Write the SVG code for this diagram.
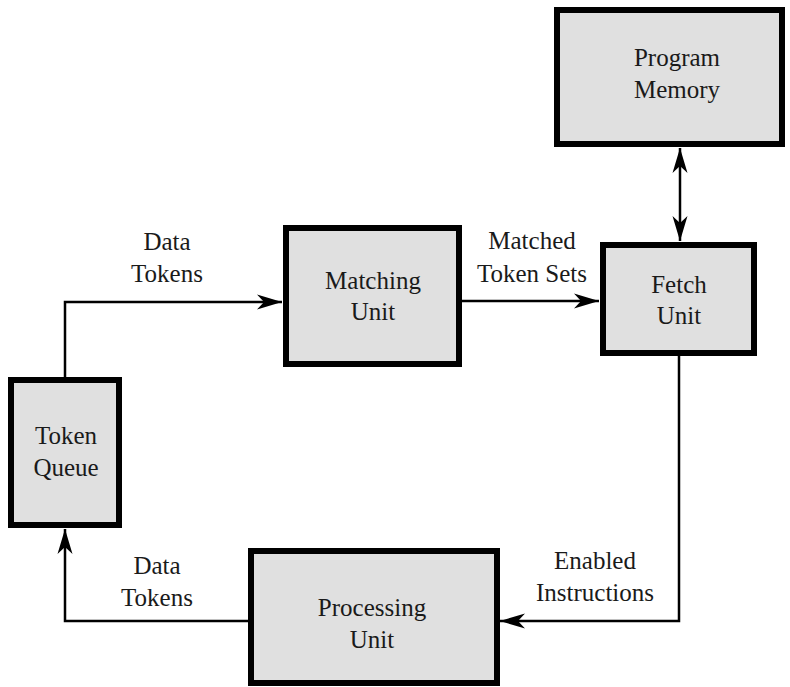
<svg xmlns="http://www.w3.org/2000/svg" width="790" height="687" viewBox="0 0 790 687">
<style>
.box{fill:#e0e0e0;stroke:#000;stroke-width:6}
.lbl{font-family:"Liberation Serif","Times New Roman",serif;font-size:25px;fill:#1a1a1a;text-anchor:middle}
.wire{fill:none;stroke:#000;stroke-width:2.5}
</style>
<defs>
<marker id="ah" markerUnits="userSpaceOnUse" markerWidth="26" markerHeight="16" refX="25" refY="7.5" orient="auto-start-reverse" viewBox="0 0 26 15">
<path d="M0,0 L25,7.5 L0,15 L7,7.5 z" fill="#000"/>
</marker>
</defs>
<rect width="790" height="687" fill="#fff"/>
<g id="connectors">
<path class="wire" d="M65,377 V302 H282" marker-end="url(#ah)"/>
<path class="wire" d="M462,301 H599" marker-end="url(#ah)"/>
<path class="wire" d="M680,148 V241" marker-start="url(#ah)" marker-end="url(#ah)"/>
<path class="wire" d="M679,356 V621 H500" marker-end="url(#ah)"/>
<path class="wire" d="M248,621 H65 V529" marker-end="url(#ah)"/>
<text class="lbl" x="167" y="250">Data</text>
<text class="lbl" x="167" y="282">Tokens</text>
<text class="lbl" x="532" y="249">Matched</text>
<text class="lbl" x="532" y="282">Token Sets</text>
<text class="lbl" x="595" y="569">Enabled</text>
<text class="lbl" x="595" y="601">Instructions</text>
<text class="lbl" x="157" y="574">Data</text>
<text class="lbl" x="157" y="606">Tokens</text>
</g>
<g id="program-memory">
<rect class="box" x="557" y="10" width="225" height="134"/>
<text class="lbl" x="677" y="66">Program</text>
<text class="lbl" x="677" y="98">Memory</text>
</g>
<g id="matching-unit">
<rect class="box" x="286" y="228" width="173" height="136"/>
<text class="lbl" x="373" y="289">Matching</text>
<text class="lbl" x="373" y="320">Unit</text>
</g>
<g id="fetch-unit">
<rect class="box" x="603" y="245" width="151" height="108"/>
<text class="lbl" x="679" y="293">Fetch</text>
<text class="lbl" x="679" y="324">Unit</text>
</g>
<g id="token-queue">
<rect class="box" x="11" y="380" width="108" height="145"/>
<text class="lbl" x="66" y="444">Token</text>
<text class="lbl" x="66" y="476">Queue</text>
</g>
<g id="processing-unit">
<rect class="box" x="251" y="551" width="246" height="132"/>
<text class="lbl" x="372" y="616">Processing</text>
<text class="lbl" x="372" y="648">Unit</text>
</g>
</svg>
